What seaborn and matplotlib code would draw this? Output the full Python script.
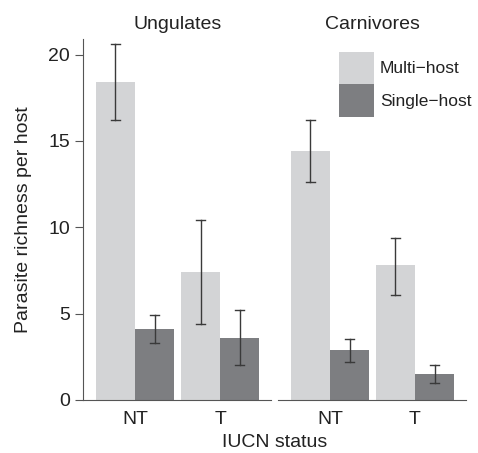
import matplotlib
matplotlib.use("Agg")
import matplotlib.pyplot as plt
import pandas as pd
import seaborn as sns

groups = ["Ungulates", "Carnivores"]
statuses = ["NT", "T"]
hosts = ["Multi\u2212host", "Single\u2212host"]

# values per group: [NT multi, NT single, T multi, T single]
ung_mean = [18.4, 4.1, 7.4, 3.6]
ung_lo = [16.2, 3.3, 4.4, 2.0]
ung_hi = [20.6, 4.9, 10.4, 5.2]
carn_mean = [14.4, 2.9, 7.8, 1.5]
carn_lo = [12.6, 2.2, 6.1, 1.0]
carn_hi = [16.2, 3.55, 9.4, 2.0]

colors = ["#d3d4d6", "#7d7e81"]

# long table: lo / mean / hi per bar, median + full interval reproduces the error bars
rows = []
for g, means, los, his in [(groups[0], ung_mean, ung_lo, ung_hi),
                           (groups[1], carn_mean, carn_lo, carn_hi)]:
    i = 0
    for s in statuses:
        for h in hosts:
            for v in (los[i], means[i], his[i]):
                rows.append({"group": g, "status": s, "host": h, "value": v})
            i += 1
df = pd.DataFrame(rows)

plt.rcParams["font.family"] = ["Liberation Sans", "DejaVu Sans"]
plt.rcParams["font.size"] = 14

fig, axes = plt.subplots(1, 2, figsize=(4.78, 4.53), dpi=100, sharey=True)
fig.subplots_adjust(left=0.174, right=0.975, bottom=0.117, top=0.914, wspace=0.037)

for ax, g in zip(axes, groups):
    sns.barplot(data=df[df["group"] == g], x="status", y="value", hue="host",
                order=statuses, hue_order=hosts, palette=colors,
                estimator="median", errorbar=("pi", 100), width=0.92,
                capsize=0.2, err_kws={"color": "#3a3a3a", "linewidth": 1.0},
                saturation=1, legend=(g == "Carnivores"), ax=ax)
    ax.set_title(g, fontsize=14, pad=7, color="#222222")
    ax.set_xlabel("")
    ax.set_ylabel("")
    ax.set_xlim(-0.61, 1.6)
    ax.set_ylim(0, 20.9)
    for side in ["top", "right"]:
        ax.spines[side].set_visible(False)
    ax.spines["bottom"].set_color("#555555")
    ax.spines["left"].set_color("#555555")
    ax.tick_params(axis="x", length=0, pad=8, labelsize=14, colors="#222222")
    ax.tick_params(axis="y", length=6, color="#555555", labelsize=14, labelcolor="#222222")

axes[0].set_yticks([0, 5, 10, 15, 20])
axes[0].set_ylabel("Parasite richness per host", fontsize=14, color="#222222", labelpad=12)
axes[1].spines["left"].set_visible(False)
axes[1].tick_params(axis="y", left=False)

leg = axes[1].legend(loc="upper left", bbox_to_anchor=(0.324, 0.964), frameon=False,
                     handlelength=2.0, handleheight=2.5, handletextpad=0.35,
                     labelspacing=0.0, fontsize=12.5, borderaxespad=0, borderpad=0)
for t in leg.get_texts():
    t.set_color("#222222")

fig.supxlabel("IUCN status", fontsize=14, x=0.574, y=0.004, color="#222222")

fig.savefig("out.png", dpi=100)
